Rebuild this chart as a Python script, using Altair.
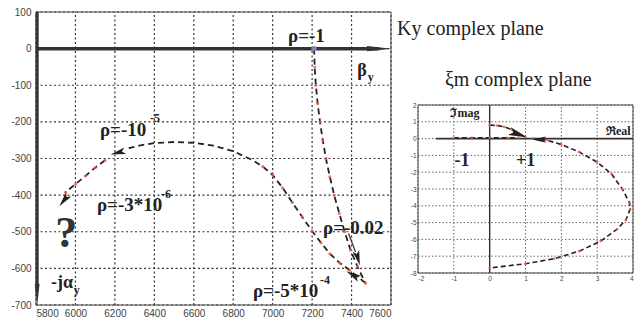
import altair as alt
import pandas as pd

# ---------------- Ky complex plane (main panel) ----------------
KY_RE_DOMAIN = [5800, 7600]
KY_IM_DOMAIN = [-700, 100]
ky_re_ticks = [5800, 6000, 6200, 6400, 6600, 6800, 7000, 7200, 7400, 7600]
ky_im_ticks = [100, 0, -100, -200, -300, -400, -500, -600, -700]

# branch rho = -1 ... -0.02 ... -5e-4
ky1_re = [7210, 7213, 7219, 7228, 7240, 7254, 7270, 7290, 7312, 7338, 7365, 7395, 7430, 7470]
ky1_im = [0, -50, -100, -150, -200, -250, -300, -350, -400, -450, -500, -550, -595, -640]
# branch rho = -5e-4 ... -1e-5
ky2_re = [7470, 7430, 7390, 7340, 7290, 7245, 7200, 7150, 7100, 7050, 7000, 6950, 6900,
          6800, 6700, 6600, 6500, 6400, 6330, 6270]
ky2_im = [-640, -622, -605, -585, -560, -530, -498, -460, -420, -380, -345, -322, -305,
          -280, -265, -257, -255, -258, -264, -272]
# branch rho = -1e-5 ... -3e-6
ky3_re = [6150, 6100, 6050, 6000, 5950]
ky3_im = [-305, -325, -348, -370, -392]

# rho labels (mantissa part and exponent part)
ky_labels = ["ρ=-1", "ρ=-10", "ρ=-3*10", "ρ=-0.02", "ρ=-5*10"]
ky_label_re = [7078, 6124, 6109, 7255, 6900]
ky_label_im = [34, -222, -427, -490, -662]
ky_exps = ["-5", "-6", "-4"]
ky_exp_re = [6378, 6434, 7240]
ky_exp_im = [-189, -397, -632]

# ---------------- xi_m complex plane (inset) ----------------
XI_RE_DOMAIN = [-2, 4]
XI_IM_DOMAIN = [-8, 2]
xi_re_ticks = [-2, -1, 0, 1, 2, 3, 4]
xi_im_ticks = [2, 1, 0, -1, -2, -3, -4, -5, -6, -7, -8]

xi1_re = [0, 0.2, 0.4, 0.6, 0.8, 1.0]
xi1_im = [0.8, 0.78, 0.7, 0.55, 0.35, 0.08]
xi2_re = [-1.0, -0.5, 0.0, 0.5, 0.8]
xi2_im = [0.05, 0.05, 0.05, 0.05, 0.05]
xi3_re = [1.2, 1.6, 2.0, 2.5, 3.0, 3.4, 3.7, 3.9, 3.92, 3.8, 3.55, 3.1, 2.5, 1.8, 1.0, 0.0]
xi3_im = [0.0, -0.1, -0.35, -0.8, -1.4, -2.1, -3.0, -3.8, -4.2, -4.85, -5.4, -6.1, -6.7, -7.15, -7.45, -7.7]

xi_labels = ["ℑmag", "ℜeal", "-1", "+1"]
xi_label_re = [-0.69, 3.59, -0.77, 1.0]
xi_label_im = [1.52, 0.45, -1.33, -1.33]

SERIF = "Liberation Serif"
SANS = "Liberation Sans"
ARROW = "M1,0L-1,-0.45L-0.55,0L-1,0.45Z"
AXHEAD = "M1,0L-1,-0.22L-1,0.22Z"
PLAIN = "'' + datum.value"

# scales / axes
sx_k = alt.Scale(domain=KY_RE_DOMAIN, range=[36, 391], nice=False, zero=False)
sy_k = alt.Scale(domain=KY_IM_DOMAIN, range=[305, 12], nice=False, zero=False)
ax_kx = alt.Axis(orient="bottom", offset=-19, values=ky_re_ticks, grid=False, domain=False,
                 ticks=False, labelPadding=3, labelFont=SANS, labelFontSize=10,
                 labelColor="#444", title=None, labelOverlap=False, labelExpr=PLAIN)
ax_ky = alt.Axis(orient="left", offset=-36, values=ky_im_ticks, grid=False, domain=False,
                 ticks=False, labelPadding=5, labelFont=SANS, labelFontSize=10,
                 labelColor="#444", title=None, labelOverlap=False, labelExpr=PLAIN)

sx_x = alt.Scale(domain=XI_RE_DOMAIN, range=[418, 633], nice=False, zero=False)
sy_x = alt.Scale(domain=XI_IM_DOMAIN, range=[273, 105], nice=False, zero=False)
ax_xx = alt.Axis(orient="bottom", offset=-51, values=xi_re_ticks, grid=False, domain=False,
                 ticks=False, labelPadding=2, labelFont=SANS, labelFontSize=6.5,
                 labelColor="#444", title=None, labelOverlap=False, labelExpr=PLAIN)
ax_xy = alt.Axis(orient="left", offset=-418, values=xi_im_ticks, grid=False, domain=False,
                 ticks=False, labelPadding=2, labelFont=SANS, labelFontSize=6.5,
                 labelColor="#444", title=None, labelOverlap=False, labelExpr=PLAIN)


def KX(f):
    return alt.X(f, type="quantitative", scale=sx_k, axis=ax_kx)


def KY(f):
    return alt.Y(f, type="quantitative", scale=sy_k, axis=ax_ky)


def XX(f):
    return alt.X(f, type="quantitative", scale=sx_x, axis=ax_xx)


def XY(f):
    return alt.Y(f, type="quantitative", scale=sy_x, axis=ax_xy)


def branches(parts):
    rows = []
    for name, xs, ys in parts:
        for i, (a, b) in enumerate(zip(xs, ys)):
            rows.append({"branch": name, "i": i, "re": a, "im": b})
    return pd.DataFrame(rows)


# ---------------- main panel layers ----------------
k_gx = pd.DataFrame({"v": ky_re_ticks, "lo": KY_IM_DOMAIN[0], "hi": KY_IM_DOMAIN[1]})
k_gy = pd.DataFrame({"v": ky_im_ticks, "lo": KY_RE_DOMAIN[0], "hi": KY_RE_DOMAIN[1]})
k_box = pd.DataFrame({"x0": [KY_RE_DOMAIN[0]], "x1": [KY_RE_DOMAIN[1]],
                      "y0": [KY_IM_DOMAIN[0]], "y1": [KY_IM_DOMAIN[1]]})
k_curves = branches([("a", ky1_re, ky1_im), ("b", ky2_re, ky2_im), ("c", ky3_re, ky3_im)])
k_dots = k_curves[(k_curves.branch != "b") | (k_curves.re >= 6950)]

grid_k_x = alt.Chart(k_gx).mark_rule(color="#333", strokeWidth=1.2, strokeDash=[2, 2.5]).encode(
    x=KX("v"), y=KY("lo"), y2="hi")
grid_k_y = alt.Chart(k_gy).mark_rule(color="#333", strokeWidth=1.2, strokeDash=[2, 2.5]).encode(
    y=KY("v"), x=KX("lo"), x2="hi")
box_k = alt.Chart(k_box).mark_rect(fillOpacity=0, stroke="#444", strokeWidth=1).encode(
    x=KX("x0"), x2="x1", y=KY("y0"), y2="y1")

# thick coordinate arrows (beta_y horizontal, -j alpha_y vertical)
k_hline = pd.DataFrame({"x0": [5800], "x1": [7540], "y": [0]})
k_vline = pd.DataFrame({"x": [5806], "y0": [100], "y1": [-660]})
hline = alt.Chart(k_hline).mark_rule(color="#333", strokeWidth=3.5).encode(
    x=KX("x0"), x2="x1", y=KY("y"))
vline = alt.Chart(k_vline).mark_rule(color="#333", strokeWidth=3).encode(
    x=KX("x"), y=KY("y0"), y2="y1")
k_heads_axes = pd.DataFrame({"re": [7541, 5806], "im": [0, -672], "ang": [0, 90]})
heads_axes_h = alt.Chart(k_heads_axes.iloc[[0]]).mark_point(
    shape=AXHEAD, filled=True, color="#333", opacity=1, size=620).encode(
    x=KX("re"), y=KY("im"), angle=alt.Angle("ang:Q", scale=None))
heads_axes_v = alt.Chart(k_heads_axes.iloc[[1]]).mark_point(
    shape=AXHEAD, filled=True, color="#333", opacity=1, size=480).encode(
    x=KX("re"), y=KY("im"), angle=alt.Angle("ang:Q", scale=None))

curves_k = alt.Chart(k_curves).mark_line(color="#222", strokeWidth=1.8, strokeDash=[6, 4]).encode(
    x=KX("re"), y=KY("im"), detail="branch:N", order="i:Q")
dots_k = alt.Chart(k_dots).mark_point(filled=True, color="#f05a3c", opacity=0.85, size=9).encode(
    x=KX("re"), y=KY("im"))
start_k = alt.Chart(pd.DataFrame({"re": [ky1_re[0]], "im": [ky1_im[0]]})).mark_point(
    filled=True, color="#7f86c8", opacity=0.9, size=30).encode(x=KX("re"), y=KY("im"))

# pointer from the rho=-0.02 label
k_ptr = pd.DataFrame({"re": [7385, 7420], "im": [-505, -555]})
ptr_k = alt.Chart(k_ptr).mark_line(color="#333", strokeWidth=1.3).encode(x=KX("re"), y=KY("im"))
k_heads = pd.DataFrame({"re": [7432, 7407, 6215, 5942], "im": [-572, -618, -284, -414],
                        "ang": [75, 210, 165, 128]})
heads_k = alt.Chart(k_heads).mark_point(shape=ARROW, filled=True, color="#222", opacity=1,
                                        size=230).encode(
    x=KX("re"), y=KY("im"), angle=alt.Angle("ang:Q", scale=None))

k_text = pd.DataFrame({"t": ky_labels, "re": ky_label_re, "im": ky_label_im})
text_k = alt.Chart(k_text).mark_text(font=SERIF, fontWeight="bold", fontSize=19, color="#222",
                                     align="left", baseline="middle").encode(
    x=KX("re"), y=KY("im"), text="t:N")
k_exp = pd.DataFrame({"t": ky_exps, "re": ky_exp_re, "im": ky_exp_im})
exp_k = alt.Chart(k_exp).mark_text(font=SERIF, fontWeight="bold", fontSize=12, color="#222",
                                   align="left", baseline="middle").encode(
    x=KX("re"), y=KY("im"), text="t:N")

k_sym = pd.DataFrame({"t": ["β", "-jα", "?"], "re": [7453, 5932, 5953], "im": [-60, -640, -507]})
sym_k = alt.Chart(k_sym.iloc[:2]).mark_text(font=SERIF, fontWeight="bold", fontSize=18,
                                             color="#222", align="center", baseline="middle").encode(
    x=KX("re"), y=KY("im"), text="t:N")
q_k = alt.Chart(k_sym.iloc[[2]]).mark_text(font=SERIF, fontWeight="bold", fontSize=44,
                                            color="#333", align="center", baseline="middle").encode(
    x=KX("re"), y=KY("im"), text="t:N")
k_sub = pd.DataFrame({"t": ["y", "y"], "re": [7497, 6006], "im": [-77, -660]})
sub_k = alt.Chart(k_sub).mark_text(font=SERIF, fontWeight="bold", fontSize=12, color="#222",
                                   align="center", baseline="middle").encode(
    x=KX("re"), y=KY("im"), text="t:N")
k_title = pd.DataFrame({"t": ["Ky complex  plane"], "re": [7631], "im": [54]})
title_k = alt.Chart(k_title).mark_text(font=SERIF, fontSize=20, color="#222", align="left",
                                       baseline="middle").encode(
    x=KX("re"), y=KY("im"), text="t:N")

main = alt.layer(grid_k_x, grid_k_y, box_k, hline, vline, heads_axes_h, heads_axes_v,
                 curves_k, dots_k, start_k, ptr_k, heads_k, text_k, exp_k, sym_k, q_k, sub_k,
                 title_k)

# ---------------- inset layers ----------------
x_gx = pd.DataFrame({"v": xi_re_ticks, "lo": XI_IM_DOMAIN[0], "hi": XI_IM_DOMAIN[1]})
x_gy = pd.DataFrame({"v": xi_im_ticks, "lo": XI_RE_DOMAIN[0], "hi": XI_RE_DOMAIN[1]})
x_box = pd.DataFrame({"x0": [XI_RE_DOMAIN[0]], "x1": [XI_RE_DOMAIN[1]],
                      "y0": [XI_IM_DOMAIN[0]], "y1": [XI_IM_DOMAIN[1]]})
grid_x_x = alt.Chart(x_gx).mark_rule(color="#555", strokeWidth=0.9, strokeDash=[1.5, 2]).encode(
    x=XX("v"), y=XY("lo"), y2="hi")
grid_x_y = alt.Chart(x_gy).mark_rule(color="#555", strokeWidth=0.9, strokeDash=[1.5, 2]).encode(
    y=XY("v"), x=XX("lo"), x2="hi")
box_x = alt.Chart(x_box).mark_rect(fillOpacity=0, stroke="#444", strokeWidth=1).encode(
    x=XX("x0"), x2="x1", y=XY("y0"), y2="y1")

x_axes_v = pd.DataFrame({"x": [0], "y0": [XI_IM_DOMAIN[0]], "y1": [XI_IM_DOMAIN[1]]})
x_axes_h = pd.DataFrame({"x0": [-1.5], "x1": [XI_RE_DOMAIN[1]], "y": [0]})
axv_x = alt.Chart(x_axes_v).mark_rule(color="#333", strokeWidth=1.4).encode(
    x=XX("x"), y=XY("y0"), y2="y1")
axh_x = alt.Chart(x_axes_h).mark_rule(color="#333", strokeWidth=1.6).encode(
    x=XX("x0"), x2="x1", y=XY("y"))

x_curves = branches([("a", xi1_re, xi1_im), ("b", xi2_re, xi2_im), ("c", xi3_re, xi3_im)])
curves_x = alt.Chart(x_curves).mark_line(color="#222", strokeWidth=1.6, strokeDash=[5, 3]).encode(
    x=XX("re"), y=XY("im"), detail="branch:N", order="i:Q")
dots_x = alt.Chart(x_curves).mark_point(filled=True, color="#f05a3c", opacity=0.85, size=7).encode(
    x=XX("re"), y=XY("im"))

x_heads = pd.DataFrame({"re": [0.79, 1.38], "im": [0.26, -0.06], "ang": [20, 180]})
head_x1 = alt.Chart(x_heads.iloc[[0]]).mark_point(shape=ARROW, filled=True, color="#222",
                                                   opacity=1, size=330).encode(
    x=XX("re"), y=XY("im"), angle=alt.Angle("ang:Q", scale=None))
head_x2 = alt.Chart(x_heads.iloc[[1]]).mark_point(shape=ARROW, filled=True, color="#222",
                                                   opacity=1, size=200).encode(
    x=XX("re"), y=XY("im"), angle=alt.Angle("ang:Q", scale=None))

x_text = pd.DataFrame({"t": xi_labels, "re": xi_label_re, "im": xi_label_im})
text_x_small = alt.Chart(x_text.iloc[:2]).mark_text(font=SERIF, fontWeight="bold", fontSize=12,
                                                    color="#222", align="center",
                                                    baseline="middle").encode(
    x=XX("re"), y=XY("im"), text="t:N")
text_x_big = alt.Chart(x_text.iloc[2:]).mark_text(font=SERIF, fontWeight="bold", fontSize=18,
                                                  color="#222", align="center",
                                                  baseline="middle").encode(
    x=XX("re"), y=XY("im"), text="t:N")
x_title = pd.DataFrame({"t": ["ξm complex  plane"], "re": [-1.25], "im": [3.49]})
title_x = alt.Chart(x_title).mark_text(font=SERIF, fontSize=20, color="#222", align="left",
                                       baseline="middle").encode(
    x=XX("re"), y=XY("im"), text="t:N")

inset = alt.layer(grid_x_x, grid_x_y, box_x, axv_x, axh_x, curves_x, dots_x, head_x1, head_x2,
                  text_x_small, text_x_big, title_x)

chart = alt.layer(main, inset).resolve_scale(x="independent", y="independent").properties(
    width=640, height=324, autosize=alt.AutoSizeParams(type="none"), padding=0,
    background="white").configure_view(stroke=None)

chart.save("out.html", embed_options={"renderer": "svg", "actions": False})
